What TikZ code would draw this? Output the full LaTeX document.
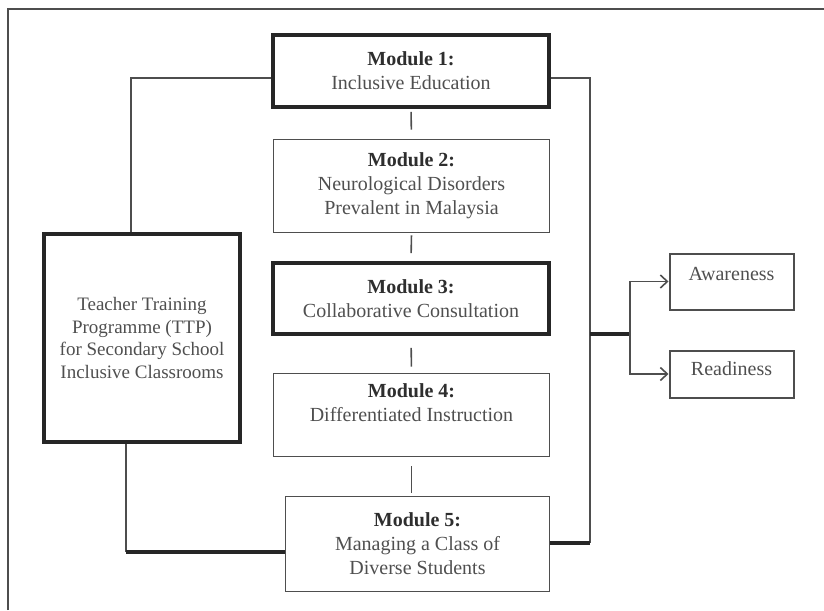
\documentclass[tikz,border=0pt]{standalone}
\usepackage{fontspec}
\setmainfont{Liberation Serif}
\usepackage{tikz}
\usepackage{xcolor}
\definecolor{linecolor}{HTML}{4E4E4E}
\definecolor{textcolor}{HTML}{4F4F4F}
\definecolor{titlecolor}{HTML}{2E2E2E}
\colorlet{thickcolor}{black!85}
\usetikzlibrary{
  arrows.meta,
  calc,
}
\tikzstyle{basicbox}=[draw=linecolor, line width=1.8pt, align=center, text=textcolor, inner sep=0pt, font=\fontsize{20}{24}\selectfont]
\tikzstyle{modulebox}=[basicbox, minimum width=276pt]
\tikzstyle{keymodule}=[modulebox, draw=thickcolor, line width=3.6pt]
\tikzstyle{programmebox}=[keymodule, minimum width=196pt, minimum height=208pt, font=\fontsize{19}{22.5}\selectfont]
\tikzstyle{outcomebox}=[basicbox, line width=2pt, minimum width=124pt]
\tikzstyle{thinline}=[draw=linecolor, line width=1.6pt]
\tikzstyle{thickline}=[draw=thickcolor, line width=3.4pt]
\newcommand{\modtitle}[1]{\textbf{\color{titlecolor}Module #1:}}

\begin{document}
\begin{tikzpicture}[x=1pt, y=-1pt]
	\useasboundingbox (0,0) rectangle (824,610);
	\draw [draw=linecolor, line width=1.4pt] (8,610) -- (8,9) -- (824,9);
	\node (mod1) [keymodule, minimum height=72pt] at (411,71) {\modtitle{1}\\Inclusive Education};
	\path (mod1) + (0.5,115) node (mod2) [modulebox, minimum height=93pt] {\modtitle{2}\\Neurological Disorders\\Prevalent in Malaysia};
	\path (mod1) + (0,227.5) node (mod3) [keymodule, minimum height=71pt] {\modtitle{3}\\Collaborative Consultation};
	\path (mod1) + (0.5,344) node (mod4) [modulebox, minimum height=83pt] {\modtitle{4}\\Differentiated Instruction\\\mbox{}};
	\path (mod1) + (6.5,473) node (mod5) [modulebox, minimum width=264pt, minimum height=95pt] {\modtitle{5}\\Managing a Class of\\Diverse Students};
	\node (ttp) [programmebox] at (142,338) {Teacher Training\\Programme (TTP)\\for Secondary School\\Inclusive Classrooms};
	\node (awareness) [outcomebox, minimum height=56pt, text depth=15pt] at (731.5,281.5) {Awareness};
	\node (readiness) [outcomebox, minimum height=47pt, text depth=10pt] at (731.5,374) {Readiness};
	% corners of the connectors
	\coordinate (lefttop) at (131,78);
	\coordinate (leftbottom) at (126,552);
	\coordinate (righttop) at (590,78);
	\coordinate (rightbottom) at (590,543);
	\coordinate (hub) at (590,334);
	\coordinate (split) at (630,334);
	\draw [thinline, shorten <=3pt, shorten >=9pt] (mod1.south) -- (mod2.north);
	\draw [thinline, shorten <=2pt, shorten >=8pt] (mod2.south) -- (mod3.north);
	\draw [thinline, shorten <=12pt, shorten >=6pt] (mod3.south) -- (mod4.north);
	\draw [thinline, shorten <=9pt, shorten >=3pt] (mod4.south) -- (mod4.south |- mod5.north);
	\draw [thinline] (mod1.west |- lefttop) -- (lefttop) -- (lefttop |- ttp.north);
	\draw [thinline] (leftbottom |- ttp.south) -- (leftbottom);
	\draw [thickline] (leftbottom) -- (leftbottom -| mod5.west);
	\draw [thinline] (mod1.east |- righttop) -- (righttop) -- (rightbottom);
	\draw [thickline] (rightbottom) -- (rightbottom -| mod5.east);
	\draw [thickline] (hub) -- (split);
	\draw [thinline, -{Straight Barb[length=7pt, width=13pt]}] (split) |- (awareness.west);
	\draw [thinline, -{Straight Barb[length=7pt, width=13pt]}] (split) |- (readiness.west);
\end{tikzpicture}
\end{document}
